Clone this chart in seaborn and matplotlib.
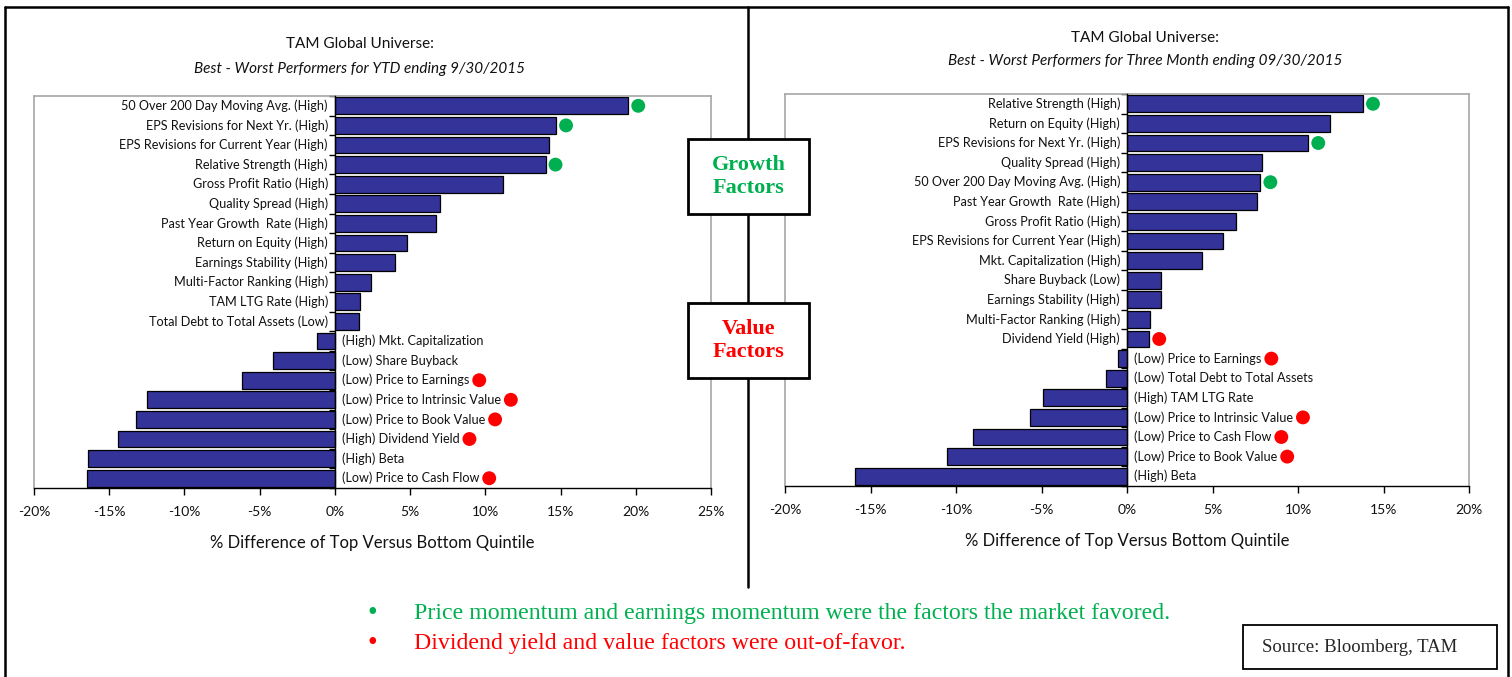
import matplotlib
matplotlib.use("Agg")
import matplotlib.pyplot as plt
import seaborn as sns
import pandas as pd
from matplotlib.patches import Rectangle
from matplotlib.lines import Line2D
from matplotlib.ticker import FuncFormatter

# ---------------- data ----------------
left_factors = [
    "50 Over 200 Day Moving Avg. (High)", "EPS Revisions for Next Yr. (High)",
    "EPS Revisions for Current Year (High)", "Relative Strength (High)",
    "Gross Profit Ratio (High)", "Quality Spread (High)",
    "Past Year Growth  Rate (High)", "Return on Equity (High)",
    "Earnings Stability (High)", "Multi-Factor Ranking (High)",
    "TAM LTG Rate (High)", "Total Debt to Total Assets (Low)",
    "(High) Mkt. Capitalization", "(Low) Share Buyback",
    "(Low) Price to Earnings", "(Low) Price to Intrinsic Value",
    "(Low) Price to Book Value", "(High) Dividend Yield",
    "(High) Beta", "(Low) Price to Cash Flow",
]
left_values = [19.5, 14.7, 14.2, 14.0, 11.2, 7.0, 6.7, 4.8, 4.0, 2.4, 1.7, 1.6,
               -1.2, -4.1, -6.2, -12.5, -13.2, -14.4, -16.4, -16.5]
left_flags = ["g", "g", "", "g", "", "", "", "", "", "", "", "",
              "", "", "r", "r", "r", "r", "", "r"]

right_factors = [
    "Relative Strength (High)", "Return on Equity (High)",
    "EPS Revisions for Next Yr. (High)", "Quality Spread (High)",
    "50 Over 200 Day Moving Avg. (High)", "Past Year Growth  Rate (High)",
    "Gross Profit Ratio (High)", "EPS Revisions for Current Year (High)",
    "Mkt. Capitalization (High)", "Share Buyback (Low)",
    "Earnings Stability (High)", "Multi-Factor Ranking (High)",
    "Dividend Yield (High)", "(Low) Price to Earnings",
    "(Low) Total Debt to Total Assets", "(High) TAM LTG Rate",
    "(Low) Price to Intrinsic Value", "(Low) Price to Cash Flow",
    "(Low) Price to Book Value", "(High) Beta",
]
right_values = [13.8, 11.9, 10.6, 7.9, 7.8, 7.6, 6.4, 5.6, 4.4, 2.0, 2.0, 1.35, 1.3,
                -0.5, -1.2, -4.9, -5.7, -9.0, -10.5, -15.9]
right_flags = ["g", "", "g", "", "g", "", "", "", "", "", "", "", "r",
               "r", "", "", "r", "r", "r", ""]

left_title = "TAM Global Universe:"
left_subtitle = "Best - Worst Performers for YTD ending 9/30/2015"
right_title = "TAM Global Universe:"
right_subtitle = "Best - Worst Performers for Three Month ending 09/30/2015"
xlabel_text = "% Difference of Top Versus Bottom Quintile"
left_xticks = [-20, -15, -10, -5, 0, 5, 10, 15, 20, 25]
right_xticks = [-20, -15, -10, -5, 0, 5, 10, 15, 20]
bullet_green = "Price momentum and earnings momentum were the factors the market favored."
bullet_red = "Dividend yield and value factors were out-of-favor."
source_text = "Source: Bloomberg, TAM"

# ---------------- style ----------------
sns.set_theme(style="white")
SANS = ["Lato", "DejaVu Sans"]
SERIF = ["Liberation Serif", "DejaVu Serif"]
plt.rcParams["font.family"] = SANS

BAR = "#333399"
GREEN = "#00B050"
RED = "#FF0000"
FRAME = "#A6A6A6"
TXT = "#111111"

W, H = 1512, 677
fig = plt.figure(figsize=(W / 100, H / 100), dpi=100)
fig.patch.set_facecolor("white")


def fx(px):
    return px / W


def fy(py):
    return 1 - py / H


def make_panel(rect, factors, values, flags, xticks):
    ax = fig.add_axes(rect)
    df = pd.DataFrame({"factor": factors, "value": values})
    sns.barplot(data=df, x="value", y="factor", orient="h", order=factors,
                color=BAR, saturation=1, edgecolor="black", linewidth=0.9,
                width=0.86, ax=ax)
    ax.set_xlim(xticks[0], xticks[-1])
    ax.set_ylim(len(factors) - 0.5, -0.5)
    ax.set_xticks(xticks)
    ax.xaxis.set_major_formatter(FuncFormatter(lambda v, p: f"{v:.0f}%"))
    ax.tick_params(axis="x", direction="out", length=5, width=1, color="black",
                   labelsize=10, labelcolor=TXT, pad=8, bottom=True)
    ax.set_xlabel(xlabel_text, fontsize=12, labelpad=12, color=TXT)
    ax.set_ylabel("")
    # category axis at zero
    ax.spines["left"].set_position(("data", 0))
    ax.spines["left"].set_color("black")
    ax.spines["left"].set_linewidth(1)
    ax.spines["left"].set_zorder(3)
    ax.set_yticks([i - 0.5 for i in range(len(factors) + 1)])
    ax.set_yticklabels([])
    ax.tick_params(axis="y", direction="out", length=4, width=1, color="black", left=True)
    ax.spines["bottom"].set_color("black")
    ax.spines["bottom"].set_linewidth(1)
    for s in ("top", "right"):
        ax.spines[s].set_color(FRAME)
        ax.spines[s].set_linewidth(1.2)
    ax.add_line(Line2D([0, 0], [0, 1], transform=ax.transAxes, color=FRAME,
                       lw=1.2, clip_on=False))
    ax.grid(False)
    labels = []
    for i, (f, v) in enumerate(zip(factors, values)):
        if v >= 0:
            t = ax.annotate(f, xy=(0, i), xytext=(-5, 0), textcoords="offset points",
                            ha="right", va="center", fontsize=9.1, color=TXT)
        else:
            t = ax.annotate(f, xy=(0, i), xytext=(5, 0), textcoords="offset points",
                            ha="left", va="center", fontsize=9.1, color=TXT)
        labels.append(t)
    return ax, labels


axL, labL = make_panel([fx(34), fy(488), fx(711) - fx(34), (488 - 96) / H],
                       left_factors, left_values, left_flags, left_xticks)
axR, labR = make_panel([fx(785), fy(486), fx(1469) - fx(785), (486 - 94) / H],
                       right_factors, right_values, right_flags, right_xticks)

# marker dots placed just beyond bar end (positive) or label end (negative)
fig.canvas.draw()
renderer = fig.canvas.get_renderer()
for ax, labels, values, flags in ((axL, labL, left_values, left_flags),
                                  (axR, labR, right_values, right_flags)):
    xs, ys, cs = [], [], []
    inv = ax.transData.inverted()
    for i, (lab, v, fl) in enumerate(zip(labels, values, flags)):
        if not fl:
            continue
        dy = ax.transData.transform((0, i))[1]
        if v >= 0:
            dx = ax.transData.transform((v, i))[0] + 10
        else:
            dx = lab.get_window_extent(renderer).x1 + 10
        xs.append(inv.transform((dx, dy))[0])
        ys.append(i)
        cs.append(GREEN if fl == "g" else RED)
    ax.scatter(xs, ys, s=100, c=cs, edgecolors="none", zorder=5, clip_on=False)

# titles
fig.text(fx(360), fy(44), left_title, ha="center", va="center", fontsize=11, color=TXT)
fig.text(fx(360), fy(69), left_subtitle, ha="center", va="center", fontsize=11,
         style="italic", color=TXT)
fig.text(fx(1145), fy(38), right_title, ha="center", va="center", fontsize=11, color=TXT)
fig.text(fx(1145), fy(61), right_subtitle, ha="center", va="center", fontsize=11,
         style="italic", color=TXT)

# outer frame and divider
for (x0, y0, x1, y1) in ((5, 7, 1508, 7), (5, 7, 5, 677), (1508, 7, 1508, 677),
                         (748, 7, 748, 587)):
    fig.add_artist(Line2D([fx(x0), fx(x1)], [fy(y0), fy(y1)], transform=fig.transFigure,
                          color="black", lw=1.8, zorder=2))

# factor boxes
for (y0, y1, txt, col) in ((139, 214, "Growth\nFactors", GREEN),
                           (303, 378, "Value\nFactors", RED)):
    fig.add_artist(Rectangle((fx(688), fy(y1)), fx(809) - fx(688), (y1 - y0) / H,
                             transform=fig.transFigure, facecolor="white",
                             edgecolor="black", lw=2, zorder=6))
    fig.text(fx(748.5), fy((y0 + y1) / 2), txt, ha="center", va="center",
             fontsize=16, fontweight="bold", color=col, family=SERIF,
             linespacing=1.2, zorder=7)

# bullets
fig.text(fx(372), fy(614), "\u2022", ha="center", va="center", fontsize=20, color=GREEN, family=SERIF)
fig.text(fx(414), fy(614), bullet_green, ha="left", va="center", fontsize=17.2, color=GREEN, family=SERIF)
fig.text(fx(372), fy(643), "\u2022", ha="center", va="center", fontsize=20, color=RED, family=SERIF)
fig.text(fx(414), fy(643), bullet_red, ha="left", va="center", fontsize=17.2, color=RED, family=SERIF)

# source box
fig.add_artist(Rectangle((fx(1243), fy(669)), fx(1497) - fx(1243), (669 - 625) / H,
                         transform=fig.transFigure, facecolor="white", edgecolor="black",
                         lw=1.3, zorder=6))
fig.text(fx(1360), fy(647), source_text, ha="center", va="center", fontsize=13.5,
         family=SERIF, zorder=7)

fig.savefig("out.png", dpi=100)
